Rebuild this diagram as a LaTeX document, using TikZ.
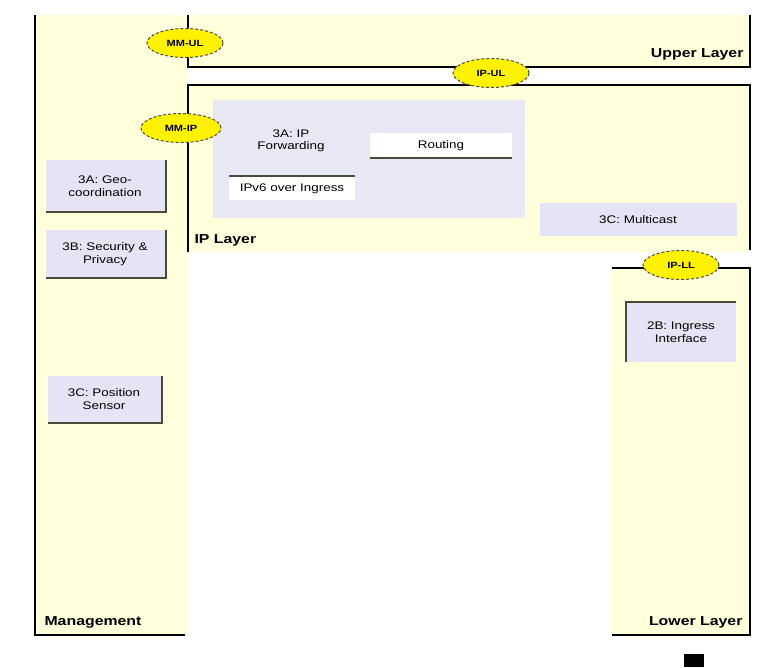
\documentclass[tikz,border=0pt]{standalone}
\usepackage{fontspec}
\setmainfont[FakeStretch=1.22]{Liberation Sans}
\usetikzlibrary{shapes.geometric}
\definecolor{cream}{HTML}{FFFFDC}
\definecolor{lav}{HTML}{E4E4F4}
\definecolor{lavlight}{HTML}{E8E8F4}
\definecolor{edgegray}{HTML}{4A4A3A}
\tikzset{
  edgeline/.style={line width=2.2pt, black},
  boxtext/.style={font=\fontsize{11}{12.5}\selectfont, align=center, text=black},
  layerlabel/.style={font=\bfseries\fontsize{13}{15}\selectfont, text=black},
  iface/.style={ellipse, fill=yellow, draw=black!70, densely dashed, line width=1pt,
    minimum width=76pt, minimum height=29pt, inner sep=0pt,
    font=\bfseries\fontsize{9}{10}\selectfont},
  shadowline/.style={line width=1.6pt, draw=edgegray},
}
\begin{document}
\begin{tikzpicture}[x=1pt,y=-1pt]
\useasboundingbox (0,0) rectangle (765,667);
\fill[white] (0,0) rectangle (765,667);

% layer areas
\fill[cream] (35,15) rectangle (188,635);
\fill[cream] (188,15) rectangle (750,67);
\fill[cream] (188,85) rectangle (750,252);
\fill[cream] (612,268) rectangle (750,635);

% management panel border
\draw[edgeline] (35,15) -- (35,635) -- (185,635);
% upper layer border
\draw[edgeline] (188,15) -- (188,67) -- (750,67) -- (750,15);
% IP layer border
\draw[edgeline] (188,252) -- (188,85) -- (750,85) -- (750,250);
% lower layer border
\draw[edgeline] (612,268) -- (750,268) -- (750,635) -- (612,635);
\fill[black] (684,654) rectangle (704,667);

% IP forwarding block
\fill[lavlight] (213,100) rectangle (525,218);
\node[boxtext] (fwd) at (291,141) {3A: IP\\Forwarding};
\fill[white] (370,133) rectangle (512,158);
\draw[shadowline] (370,158) -- (512,158);
\node[boxtext] (routing) at (441,146) {Routing};
\fill[white] (229,176) rectangle (355,200);
\draw[shadowline] (229,176) -- (355,176);
\node[boxtext] (ipv6) at (292,189) {IPv6 over Ingress};

% multicast block
\fill[lav] (540,203) rectangle (737,236);
\node[boxtext] (mcast) at (638,220) {3C: Multicast};

% management functions
\fill[lav] (46,160) rectangle (166,212);
\draw[shadowline] (166,160) -- (166,212) -- (46,212);
\node[boxtext] (geo) at (105,186) {3A: Geo-\\coordination};
\fill[lav] (46,230) rectangle (166,278);
\draw[shadowline] (166,230) -- (166,278) -- (46,278);
\node[boxtext] (sec) at (105,254) {3B: Security \&\\Privacy};
\fill[lav] (48,376) rectangle (162,423);
\draw[shadowline] (162,376) -- (162,423) -- (48,423);
\node[boxtext] (pos) at (104,399) {3C: Position\\Sensor};

% lower layer function
\fill[lav] (626,302) rectangle (736,362);
\draw[shadowline] (626,362) -- (626,302) -- (736,302);
\node[boxtext] (ingress) at (681,332) {2B: Ingress\\Interface};

% interface points
\node[iface] (mmul) at (185,43) {MM-UL};
\node[iface] (ipul) at (491,73) {IP-UL};
\node[iface, minimum width=80pt] (mmip) at (181,128) {MM-IP};
\node[iface] (ipll) at (681,265) {IP-LL};

% layer labels
\node[layerlabel, anchor=south east] (upper) at (747,64) {Upper Layer};
\node[layerlabel, anchor=south west] (ip) at (191,250) {IP Layer};
\node[layerlabel, anchor=south west] (mgmt) at (41,632) {Management};
\node[layerlabel, anchor=south east] (lower) at (746,632) {Lower Layer};
\end{tikzpicture}
\end{document}
